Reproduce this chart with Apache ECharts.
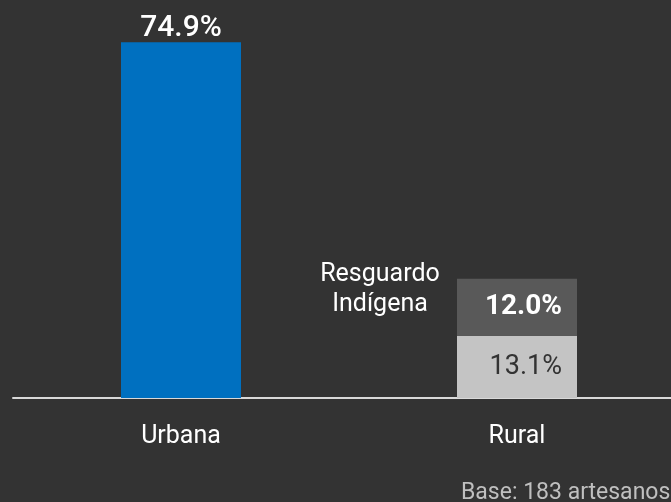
<!DOCTYPE html>
<html>
<head>
<meta charset="utf-8">
<style>
  html, body { margin: 0; padding: 0; background: #333333; }
  #chart { width: 671px; height: 502px; }
</style>
<script src="https://cdn.jsdelivr.net/npm/echarts@6/dist/echarts.min.js"></script>
</head>
<body>
<div id="chart"></div>
<script>
// 区域分类
var categories = ['Urbana', 'Rural'];
// 城市
var urbanValues = [74.9, null];
// 农村（非保留地）
var ruralValues = [null, 13.1];
// 原住民保留地
var resguardoValues = [null, 12.0];

var myChart = echarts.init(document.getElementById('chart'));

var font = 'Roboto, "DejaVu Sans", sans-serif';

var pct = function (p) { return p.value.toFixed(1) + '%'; };

var option = {
    backgroundColor: '#333333',
    animation: false,
    grid: { left: 13, width: 672, top: 18, bottom: 104, outerBoundsMode: 'none', containLabel: false },
    xAxis: {
        type: 'category',
        data: categories,
        axisLine: { lineStyle: { color: '#d9d9d9', width: 2 } },
        axisTick: { show: false },
        axisLabel: { color: '#ffffff', fontSize: 25, fontFamily: font, margin: 26 }
    },
    yAxis: {
        type: 'value',
        min: 0,
        max: 80,
        show: false
    },
    series: [
        {
            name: 'Urbana',
            type: 'bar',
            stack: 'total',
            barWidth: 120,
            data: urbanValues,
            itemStyle: { color: '#0070c0' },
            label: {
                show: true,
                position: 'top',
                distance: -1,
                color: '#ffffff',
                fontSize: 30,
                fontWeight: 500,
                fontFamily: font,
                formatter: pct
            }
        },
        {
            name: 'Rural',
            type: 'bar',
            stack: 'total',
            barWidth: 120,
            data: ruralValues,
            itemStyle: { color: '#c4c4c4' },
            label: {
                show: true,
                position: 'insideRight',
                distance: 15,
                color: '#333333',
                fontSize: 27,
                fontFamily: font,
                formatter: pct
            }
        },
        {
            name: 'Resguardo Indígena',
            type: 'bar',
            stack: 'total',
            barWidth: 120,
            data: resguardoValues,
            itemStyle: { color: '#595959' },
            label: {
                show: true,
                position: 'insideRight',
                distance: 15,
                color: '#ffffff',
                fontSize: 28,
                fontWeight: 'bold',
                fontFamily: font,
                formatter: pct
            }
        }
    ],
    graphic: [
        {
            type: 'text',
            x: 380,
            y: 260,
            style: {
                text: 'Resguardo\nIndígena',
                fill: '#ffffff',
                font: '25px ' + font,
                align: 'center',
                verticalAlign: 'top',
                lineHeight: 30
            }
        },
        {
            type: 'text',
            x: 461,
            y: 493,
            style: {
                text: 'Base: 183 artesanos',
                fill: '#bfbfbf',
                font: '23px ' + font,
                verticalAlign: 'middle'
            }
        }
    ]
};

myChart.setOption(option);
</script>
</body>
</html>
